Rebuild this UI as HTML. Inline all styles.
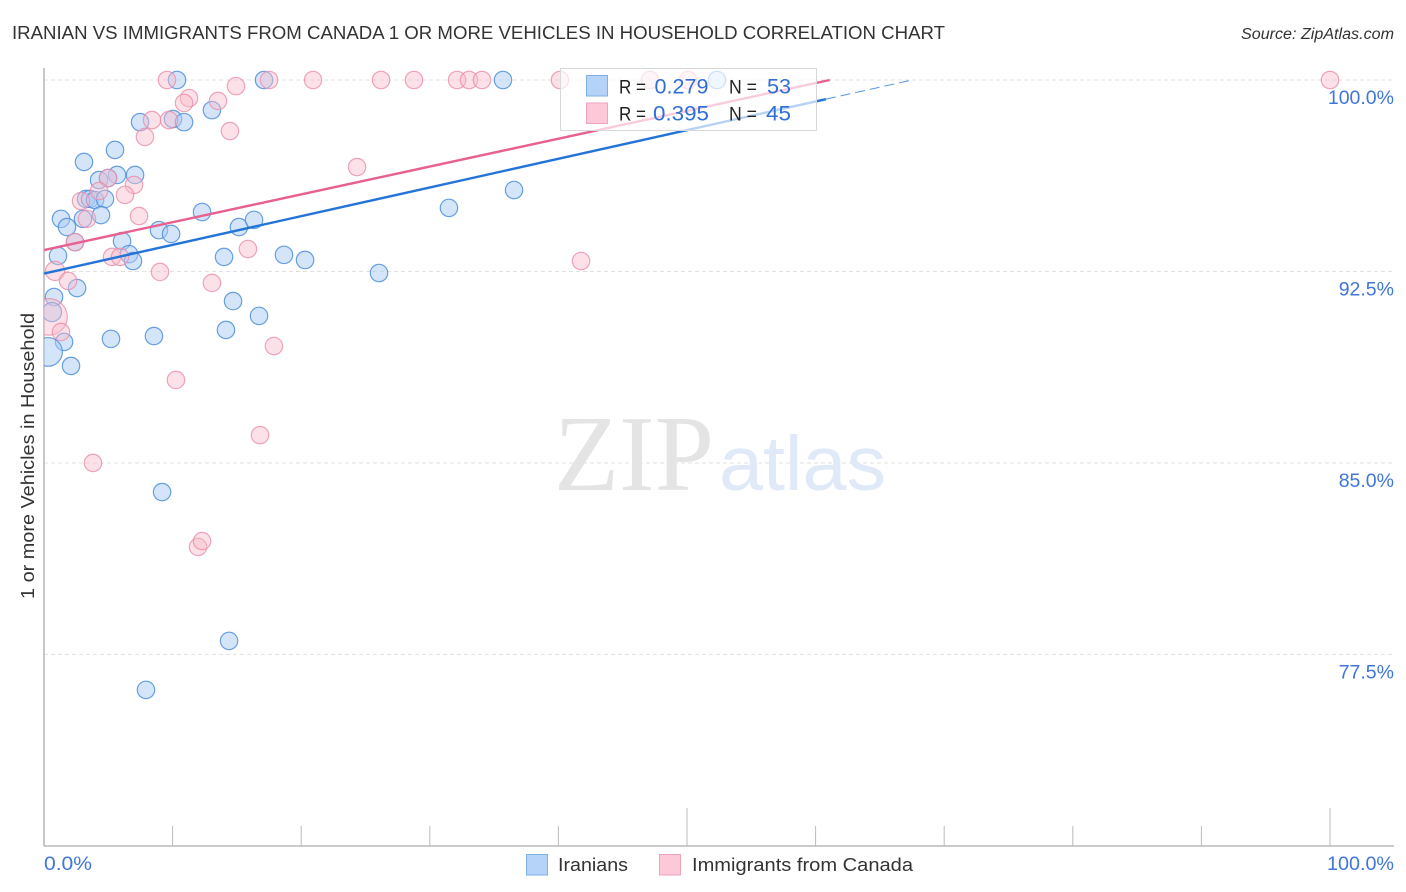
<!DOCTYPE html>
<html lang="en">
<head>
<meta charset="utf-8">
<title>Iranian vs Immigrants from Canada 1 or More Vehicles in Household Correlation Chart</title>
<style>
html,body{margin:0;padding:0;background:#fff;}
svg{display:block;font-family:"Liberation Sans",sans-serif;}
</style>
</head>
<body>
<svg id="chart" xmlns="http://www.w3.org/2000/svg" width="1406" height="892" viewBox="0 0 1406 892">
  <defs>
    <clipPath id="plot-clip"><rect x="44" y="60" width="1350" height="786"/></clipPath>
  </defs>
  <text x="12" y="39" font-size="18.5" fill="#333" textLength="933" lengthAdjust="spacingAndGlyphs">IRANIAN VS IMMIGRANTS FROM CANADA 1 OR MORE VEHICLES IN HOUSEHOLD CORRELATION CHART</text>
  <text x="1394" y="39" font-size="15.5" font-style="italic" fill="#333" text-anchor="end" textLength="153" lengthAdjust="spacingAndGlyphs">Source: ZipAtlas.com</text>

  <g id="grid"></g>

  <g>
    <text x="554" y="490" font-family="'Liberation Serif',serif" font-size="108" fill="#e4e4e4" textLength="160" lengthAdjust="spacingAndGlyphs">ZIP</text>
    <text x="719" y="490" font-size="77" fill="#dfe9f8" textLength="167" lengthAdjust="spacingAndGlyphs">atlas</text>
  </g>

  <g id="axes">
    <line x1="44" y1="68" x2="44" y2="846" stroke="#aaa" stroke-width="1.3"/>
    <line x1="44" y1="846" x2="1394" y2="846" stroke="#aaa" stroke-width="1.3"/>
  </g>
  <g id="ticks"></g>
  <g id="ylabels"></g>

  <g id="points" clip-path="url(#plot-clip)"></g>
  <g id="trends"></g>

  <text transform="translate(34,456) rotate(-90)" font-size="18" fill="#333" text-anchor="middle" textLength="286" lengthAdjust="spacingAndGlyphs">1 or more Vehicles in Household</text>
  <text x="44" y="870" font-size="19" fill="#3f76d8" textLength="48" lengthAdjust="spacingAndGlyphs">0.0%</text>
  <text x="1394" y="870" font-size="19" fill="#3f76d8" text-anchor="end" textLength="67" lengthAdjust="spacingAndGlyphs">100.0%</text>

  <g>
    <rect x="560.5" y="68.5" width="256" height="62" fill="#fff" fill-opacity="0.68" stroke="#d8d8d8" stroke-width="1"/>
    <rect x="586.5" y="75.5" width="21" height="20.500" fill="#b5d3f9" stroke="#7fb0e6" stroke-width="1"/>
    <rect x="586.5" y="103" width="21" height="20.500" fill="#fdc8d8" stroke="#efa3bc" stroke-width="1"/>
    <text x="619" y="93.500" font-size="19" fill="#222" textLength="27" lengthAdjust="spacingAndGlyphs">R =</text>
    <text x="654.500" y="93.500" font-size="21" fill="#2f6fd6" textLength="54" lengthAdjust="spacingAndGlyphs">0.279</text>
    <text x="729" y="93.500" font-size="19" fill="#222" textLength="28" lengthAdjust="spacingAndGlyphs">N =</text>
    <text x="767" y="93.500" font-size="21" fill="#2f6fd6" textLength="24" lengthAdjust="spacingAndGlyphs">53</text>
    <text x="619" y="120.500" font-size="19" fill="#222" textLength="27" lengthAdjust="spacingAndGlyphs">R =</text>
    <text x="653" y="120.500" font-size="21" fill="#2f6fd6" textLength="56" lengthAdjust="spacingAndGlyphs">0.395</text>
    <text x="729" y="120.500" font-size="19" fill="#222" textLength="28" lengthAdjust="spacingAndGlyphs">N =</text>
    <text x="766" y="120.500" font-size="21" fill="#2f6fd6" textLength="25" lengthAdjust="spacingAndGlyphs">45</text>
  </g>

  <g>
    <rect x="526.5" y="854.500" width="21" height="20.500" fill="#b5d3f9" stroke="#7fb0e6" stroke-width="1"/>
    <text x="558" y="871" font-size="18.500" fill="#333" textLength="70" lengthAdjust="spacingAndGlyphs">Iranians</text>
    <rect x="659.5" y="854.500" width="21" height="20.500" fill="#fdc8d8" stroke="#efa3bc" stroke-width="1"/>
    <text x="692" y="871" font-size="18.500" fill="#333" textLength="221" lengthAdjust="spacingAndGlyphs">Immigrants from Canada</text>
  </g>
</svg>
<script>
// Chart data (percent values)
const yTickValues = [100, 92.5, 85, 77.5];
const yTickLabels = ["100.0%", "92.5%", "85.0%", "77.5%"];
const xTickValues = [10, 20, 30, 40, 50, 60, 70, 80, 90, 100];
const xMajorTicks = [50, 100];

const iraniansX = [10.34,17.11,35.69,52.33,13.06,7.47,10.03,10.89,5.52,3.11,4.28,5.68,7.08,4.98,3.27,3.58,3.97,4.74,1.32,3.03,4.43,1.79,2.41,6.07,6.61,6.92,1.09,8.94,9.88,12.29,15.16,16.33,14.00,18.66,20.30,26.05,31.49,36.55,2.57,0.78,0.62,14.70,16.72,14.15,1.56,5.21,8.55,0.31,2.10,9.18,14.39,7.93];
const iraniansY = [100,100,100,100,98.82,98.35,98.47,98.35,97.26,96.79,96.08,96.28,96.28,96.16,95.34,95.34,95.30,95.34,94.56,94.56,94.71,94.24,93.65,93.69,93.18,92.91,93.11,94.12,93.97,94.83,94.24,94.52,93.07,93.15,92.95,92.44,94.99,95.69,91.85,91.50,90.91,91.34,90.76,90.21,89.74,89.86,89.97,89.35,88.80,83.86,78.03,76.11];
const iraniansWeight = [1,1,1,1,1,1,1,1,1,1,1,1,1,1,1,1,1,1,1,1,1,1,1,1,1,1,1,1,1,1,1,1,1,1,1,1,1,1,1,1,1.1,1,1,1,1,1,1,1.65,1,1,1,1];

const canadaX = [9.56,17.50,20.92,26.21,28.77,32.12,33.05,34.06,40.12,47.12,50.08,100,14.93,11.28,10.89,13.53,8.40,9.72,7.85,14.46,4.98,7.00,4.28,6.30,7.39,2.88,3.34,2.41,5.29,5.91,9.02,15.86,13.06,0.86,1.87,0.39,1.32,17.88,10.26,3.81,11.98,12.29,16.80,41.76,24.34];
const canadaY = [100,100,100,100,100,100,100,100,100,100,100,100,99.76,99.29,99.10,99.18,98.43,98.43,97.77,98.00,96.16,95.89,95.65,95.50,94.67,95.26,94.56,93.65,93.07,93.07,92.48,93.38,92.05,92.52,92.13,90.72,90.13,89.58,88.25,85.00,81.71,81.94,86.09,92.91,96.59];
const canadaWeight = [1,1,1,1,1,1,1,1,1,1,1,1,1,1,1,1,1,1,1,1,1,1,1,1,1,1,1,1,1,1,1,1,1,1.1,1,2.1,1,1,1,1,1,1,1,1,1];

const iraniansTrendX = [0, 60.8, 67.5];
const iraniansTrendY = [92.42, 99.25, 100];
const canadaTrendX = [0, 61.1];
const canadaTrendY = [93.34, 100];

const NS = "http://www.w3.org/2000/svg";
const xScale = v => 44 + v * 12.86;
const yScale = v => 80 + (100 - v) * 25.53;
const baseRadius = 8.7;

function mk(parent, tag, attrs) {
  const el = document.createElementNS(NS, tag);
  for (const k in attrs) el.setAttribute(k, attrs[k]);
  parent.appendChild(el);
  return el;
}

const grid = document.getElementById("grid");
const ylabels = document.getElementById("ylabels");
yTickValues.forEach((v, i) => {
  const g = mk(grid, "line", {x1: 44, x2: 1394, y1: yScale(v), y2: yScale(v), stroke: "#e0e0e0", "stroke-width": 1, "stroke-dasharray": "4 3"});
  
  
  const t = mk(ylabels, "text", {x: 1394, y: yScale(v) + 24, "font-size": 19.5, fill: "#3f76d8", "text-anchor": "end"});
  t.textContent = yTickLabels[i];
  
  
});

const ticks = document.getElementById("ticks");
xTickValues.forEach(v => {
  const major = xMajorTicks.includes(v);
  const l = mk(ticks, "line", {x1: xScale(v), x2: xScale(v), y1: major ? 808 : 826, y2: 846, stroke: "#bbb", "stroke-width": 1});
  
  
});

const points = document.getElementById("points");
iraniansX.forEach((x, i) => {
  const c = mk(points, "circle", {cx: xScale(x), cy: yScale(iraniansY[i]), r: baseRadius * iraniansWeight[i], fill: "#a9cbf5", "fill-opacity": 0.5, stroke: "#4f8fdc", "stroke-opacity": 0.85, "stroke-width": 1.2});
  
  
});
canadaX.forEach((x, i) => {
  const c = mk(points, "circle", {cx: xScale(x), cy: yScale(canadaY[i]), r: baseRadius * canadaWeight[i], fill: "#f9bccd", "fill-opacity": 0.45, stroke: "#ea8fab", "stroke-opacity": 0.8, "stroke-width": 1.2});
  
  
});

const trends = document.getElementById("trends");
const blueSolid = mk(trends, "line", {x1: xScale(iraniansTrendX[0]), y1: yScale(iraniansTrendY[0]), x2: xScale(iraniansTrendX[1]), y2: yScale(iraniansTrendY[1]), stroke: "#2474d8", "stroke-width": 2.4});


const blueDash = mk(trends, "line", {x1: xScale(iraniansTrendX[1]), y1: yScale(iraniansTrendY[1]), x2: xScale(iraniansTrendX[2]), y2: yScale(iraniansTrendY[2]), stroke: "#2474d8", "stroke-width": 1, "stroke-dasharray": "10 5", "stroke-opacity": 0.75});


const pinkSolid = mk(trends, "line", {x1: xScale(canadaTrendX[0]), y1: yScale(canadaTrendY[0]), x2: xScale(canadaTrendX[1]), y2: yScale(canadaTrendY[1]), stroke: "#e8608f", "stroke-width": 2.4});


</script>
</body>
</html>
